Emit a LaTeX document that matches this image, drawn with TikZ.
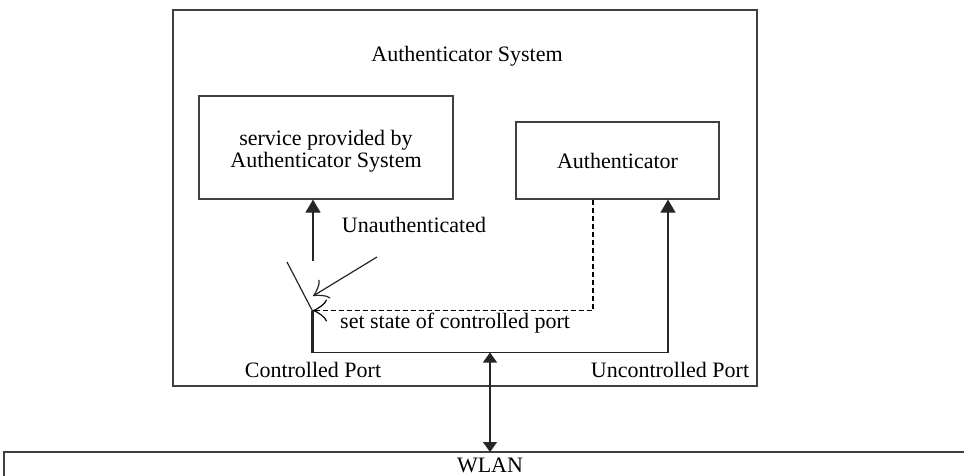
\documentclass[tikz,border=0pt]{standalone}
\usepackage{fontspec}
\setmainfont{Liberation Serif}
\usetikzlibrary{arrows.meta}
\begin{document}
\begin{tikzpicture}[x=1pt,y=-1pt,
  every node/.style={font=\fontsize{22}{21.5}\selectfont, inner sep=0pt},
  boxstyle/.style={draw=black!75, line width=1.2pt, rectangle},
  line/.style={draw=black!85, line width=1.2pt},
  tri/.style={line, -{Triangle[length=13pt,width=15pt]}},
  dtri/.style={line, {Triangle[length=10pt,width=14pt]}-{Triangle[length=10pt,width=14pt]}},
  openarr/.style={line, -{Classical TikZ Rightarrow[length=14pt,width=22pt,line width=1.2pt]}}]
\useasboundingbox (0,0) rectangle (964,475);
% boxes
\node[boxstyle, minimum width=584pt, minimum height=376pt] (sys) at (465,198) {};
\node (systitle) at (467,56) {Authenticator System};
\node[boxstyle, minimum width=254pt, minimum height=103pt] (svc) at (326,147.5) {};
\node[align=center] (svctext) at (326,151) {service provided by\\Authenticator System};
\node[boxstyle, minimum width=203pt, minimum height=77pt] (auth) at (617.5,160.5) {Authenticator};
% WLAN
\draw[boxstyle] (4,476) |- (965,452);
\node (wlan) at (490,465) {WLAN};
\coordinate (wlantop) at (490,452);
% labels
\node (unauth) at (414,225) {Unauthenticated};
\node[anchor=base west] (setstate) at (340,328) {set state of controlled port};
\node (cport) at (313,370) {Controlled Port};
\node (uport) at (670,370) {Uncontrolled Port};
% switch
\coordinate (svcin) at (313,261);
\coordinate (bladetop) at (287,262);
\coordinate (pivot) at (312.5,311);
\coordinate (portbot) at (312.5,352.5);
\coordinate (corner) at (668,352.5);
\coordinate (mid) at (490,352.5);
\coordinate (unstart) at (377,257);
\coordinate (untip) at (313,296);
\coordinate (dashcorner) at (593,310.5);
\coordinate (dashtip) at (313,310.5);
\draw[tri] (svcin) -- (svc.south -| svcin);
\draw[line] (bladetop) -- (pivot);
\draw[line, line width=2.4pt] (pivot) -- (portbot);
\draw[line] (portbot) -- (corner);
\draw[tri] (corner) -- (auth.south -| corner);
\draw[openarr] (unstart) -- (untip);
\draw[openarr, draw=black, line width=1.5pt, dash pattern=on 5pt off 3pt] (auth.south -| dashcorner) -- (dashcorner) -- (dashtip);
\draw[dtri] (mid) -- (wlantop);
\end{tikzpicture}
\end{document}
